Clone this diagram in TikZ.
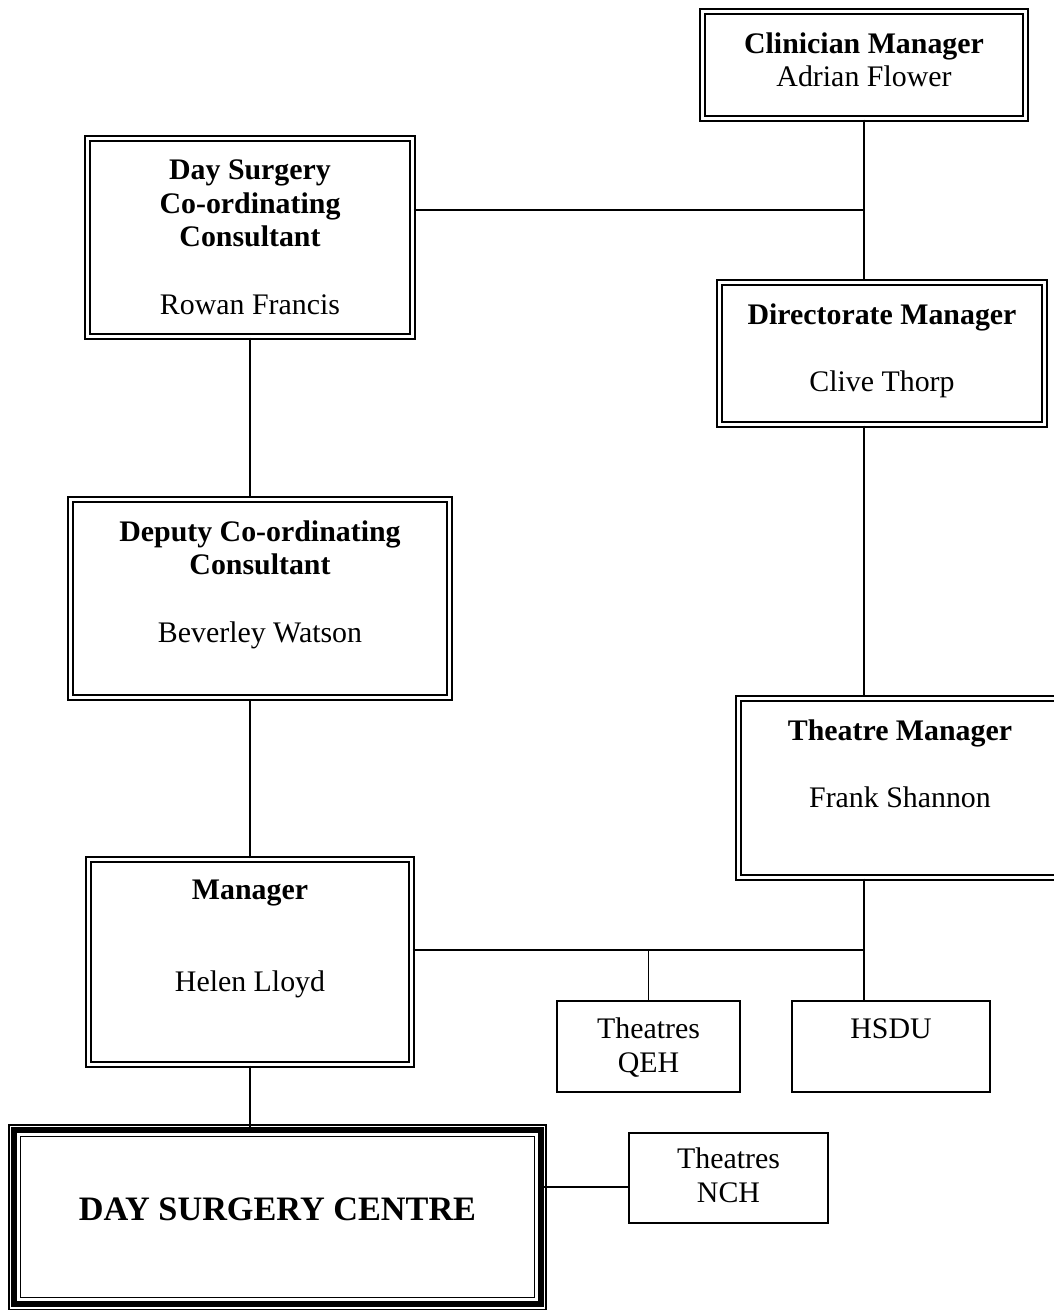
\documentclass[tikz,border=0pt]{standalone}
\usepackage{fontspec}
\setmainfont{Liberation Serif}
\usetikzlibrary{positioning}
\tikzset{
        % Boxes with a double border
        box_double/.style={draw, double, line width=0.9pt, double distance=1.9pt, inner sep=0pt, font=\fontsize{17}{19.3}\selectfont},
        % Plain boxes
        box_single/.style={draw, line width=0.7pt, inner sep=0pt, font=\fontsize{17}{19.3}\selectfont},
        % Triple border of the centre
        box_triple/.style={draw, double, line width=0.8pt, double distance=6pt, inner sep=0pt, font=\fontsize{19.5}{22}\selectfont\bfseries},
        % Connectors
        link/.style={line width=0.8pt}
}
\newcommand{\boxtext}[4]{\parbox[c][#2][t]{#1}{\centering\vspace*{#3}#4}}

\begin{document}
\begin{tikzpicture}[x=0.02cm, y=-0.02cm]
            \useasboundingbox (0,0) rectangle (1054,1312);
            % Boxes
            \node[box_double] (clin) at (864,65) {\boxtext{6.47cm}{2.15cm}{12pt}{\textbf{Clinician Manager}\\Adrian Flower}};
            \node[box_double] (dscc) at (250,237.5) {\boxtext{6.51cm}{3.97cm}{12pt}{\textbf{Day Surgery\\Co-ordinating\\Consultant}\\[19.3pt]Rowan Francis}};
            \node[box_double] (dirm) at (882,353.5) {\boxtext{6.51cm}{2.85cm}{12pt}{\textbf{Directorate Manager}\\[19.3pt]Clive Thorp}};
            \node[box_double] (dep) at (260,598.5) {\boxtext{7.59cm}{3.97cm}{12pt}{\textbf{Deputy Co-ordinating\\Consultant}\\[19.3pt]Beverley Watson}};
            \node[box_double] (tm) at (900,788) {\boxtext{6.47cm}{3.59cm}{12pt}{\textbf{Theatre Manager}\\[19.3pt]Frank Shannon}};
            \node[box_double] (man) at (250,962) {\boxtext{6.47cm}{4.11cm}{12pt}{\textbf{Manager}\\[32.9pt]Helen Lloyd}};
            \node[box_single] (qeh) at (648.5,1046.5) {\boxtext{3.66cm}{1.82cm}{9.8pt}{Theatres\\QEH}};
            \node[box_single] (hsdu) at (891,1046.5) {\boxtext{3.96cm}{1.82cm}{9.8pt}{HSDU}};
            \node[box_single] (nch) at (728.5,1178) {\boxtext{3.98cm}{1.8cm}{8.6pt}{Theatres\\NCH}};
            \node[box_triple] (dsc) at (277.5,1217) {\boxtext{10.51cm}{3.45cm}{38pt}{DAY SURGERY CENTRE}};
            \draw[line width=3.2pt] (dsc.south west) rectangle (dsc.north east);
            % Junctions
            \coordinate (cj) at (864,210);
            \coordinate (tj) at (864,950);
            \coordinate (nj) at (0,1187);
            % Connectors
            \draw[link] (clin.south) -- (clin.south |- dirm.north);
            \draw[link] (dscc.east |- cj) -- (cj);
            \draw[link] (cj |- dirm.south) -- (cj |- tm.north);
            \draw[link] (tj |- tm.south) -- (tj |- hsdu.north);
            \draw[link] (dscc.south) -- (dscc.south |- dep.north);
            \draw[link] (man.north) -- (man.north |- dep.south);
            \draw[link] (man.south) -- (man.south |- dsc.north);
            \draw[link] (man.east |- tj) -- (tj);
            \draw[link] (qeh.north) -- (qeh.north |- tj);
            \draw[link] (dsc.east |- nj) -- (nch.west |- nj);
\end{tikzpicture}
\end{document}
